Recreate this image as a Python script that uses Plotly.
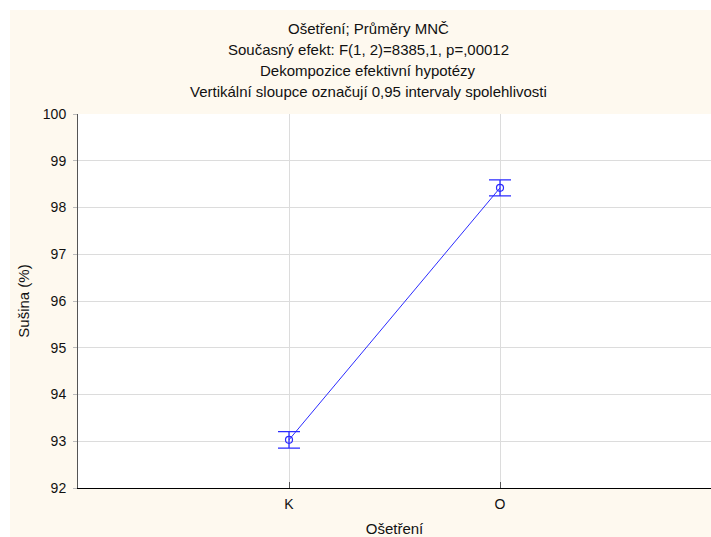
import plotly.graph_objects as go

# Treatment groups and their least-squares means of dry matter (%)
categories = ["K", "O"]
means = [93.03, 98.42]
ci_half = [0.175, 0.17]  # half-width of the 0.95 confidence interval

title_lines = [
    "Ošetření; Průměry MNČ",
    "Současný efekt: F(1, 2)=8385,1, p=,00012",
    "Dekompozice efektivní hypotézy",
    "Vertikální sloupce označují 0,95 intervaly spolehlivosti",
]
y_ticks = [92, 93, 94, 95, 96, 97, 98, 99, 100]

W, H = 711, 537
ML, MR, MT, MB = 78, 0, 114, 49
PW, PH = W - ML - MR, H - MT - MB
FONT = "Liberation Sans, Arial, sans-serif"
BLUE = "#2b2bff"


def px_x(px):
    return (px - ML) / PW


def px_y(py):
    return (H - MB - py) / PH


fig = go.Figure()
fig.add_trace(go.Scatter(
    x=categories,
    y=means,
    mode="lines+markers",
    line=dict(color=BLUE, width=1),
    marker=dict(symbol="circle-open", size=7, color=BLUE, line=dict(width=1.2)),
    error_y=dict(type="data", array=ci_half, color=BLUE, thickness=1.3, width=11),
    showlegend=False,
))

shapes = [
    # white strips along the top and left of the page
    dict(type="rect", xref="paper", yref="paper", x0=px_x(-5), x1=px_x(W + 5),
         y0=px_y(10), y1=px_y(-5), fillcolor="white", line=dict(width=0), layer="below"),
    dict(type="rect", xref="paper", yref="paper", x0=px_x(-5), x1=px_x(10),
         y0=px_y(H + 5), y1=px_y(-5), fillcolor="white", line=dict(width=0), layer="below"),
]

annotations = []
for i, line in enumerate(title_lines):
    annotations.append(dict(
        text=line, xref="paper", yref="paper",
        x=px_x(368), y=px_y(29 + i * 20.7),
        xanchor="center", yanchor="middle", showarrow=False,
        font=dict(family=FONT, size=15, color="#111"),
    ))

fig.update_layout(
    width=W, height=H,
    margin=dict(l=ML, r=MR, t=MT, b=MB, pad=0),
    paper_bgcolor="#fef9ef",
    plot_bgcolor="white",
    font=dict(family=FONT, size=14, color="#111"),
    shapes=shapes,
    annotations=annotations,
    xaxis=dict(
        type="category",
        categoryorder="array", categoryarray=categories,
        range=[-1, 2],
        showgrid=True, gridcolor="#dcdcdc", gridwidth=1,
        showline=True, linecolor="black", linewidth=1,
        ticks="inside", ticklen=6, tickcolor="#555",
        ticklabelstandoff=3,
        tickfont=dict(family=FONT, size=14, color="#111"),
        title=dict(text="Ošetření", font=dict(family=FONT, size=15, color="#111"), standoff=12),
        automargin=False,
    ),
    yaxis=dict(
        range=[92, 100],
        tickvals=y_ticks,
        showgrid=True, gridcolor="#dcdcdc", gridwidth=1,
        showline=True, linecolor="#555", linewidth=1, mirror=True,
        ticks="outside", ticklen=4, tickcolor="#bbb",
        ticklabelstandoff=4,
        tickfont=dict(family=FONT, size=14, color="#111"),
        title=dict(text="Sušina (%)", font=dict(family=FONT, size=15, color="#111"), standoff=9),
        zeroline=False,
        automargin=False,
    ),
)

fig.write_html("out.html")
